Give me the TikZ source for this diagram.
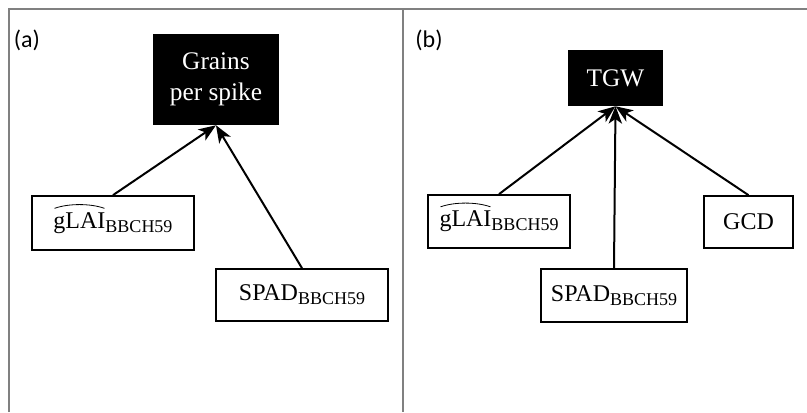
\documentclass[tikz,border=0pt]{standalone}
\usepackage{fontspec}
\usetikzlibrary{arrows.meta}
\setmainfont{Liberation Serif}
\newfontfamily\labelfont{Carlito}
\newcommand{\bbch}{\raisebox{-0.35ex}{\fontsize{13.5}{13.5}\selectfont BBCH59}}
\def\px{0.75pt}
\begin{document}
\begin{tikzpicture}[x=0.75pt,y=-0.75pt,
  varbox/.style={draw,line width=1.3pt,inner sep=0pt,font=\fontsize{18}{20}\selectfont},
  targetbox/.style={fill=black,text=white,inner sep=0pt,align=center,font=\fontsize{19}{23}\selectfont},
  panel/.style={font=\labelfont\fontsize{18}{20}\selectfont},
  link/.style={-{Stealth[length=13pt,width=10pt,inset=3.5pt]},line width=1.5pt},
  hatarc/.style={line width=0.6pt}]

\useasboundingbox (0,0) rectangle (807,412);

\draw[black!50,line width=1.5pt] (9,412) -- (9,9) -- (807,9);
\draw[black!50,line width=1.5pt] (403,9) -- (403,412);

\node[panel] (labA) at (27,40) {(a)};
\node[panel] (labB) at (429,40) {(b)};

% panel (a)
\node[targetbox,minimum width=126*\px,minimum height=91*\px] (grains) at (216,79.5) {Grains\\per spike};
\node[varbox,minimum width=162*\px,minimum height=54*\px] (glaiA) at (113,223) {gLAI\bbch};
\node[varbox,minimum width=172*\px,minimum height=52*\px] (spadA) at (302,295) {SPAD\bbch};
\draw[hatarc,shift={(glaiA.text)}] (1,-20) .. controls (15,-25) and (37,-25) .. (51,-20);

\draw[link] (glaiA.north) -- (grains.south);
\draw[link] (spadA.north) -- (grains.south);

% panel (b)
\node[targetbox,minimum width=95*\px,minimum height=56*\px] (tgw) at (615.5,78) {TGW};
\node[varbox,minimum width=142*\px,minimum height=53*\px] (glaiB) at (499,221.5) {gLAI\bbch};
\node[varbox,minimum width=146*\px,minimum height=53*\px] (spadB) at (614,295.5) {SPAD\bbch};
\node[varbox,minimum width=89*\px,minimum height=52*\px] (gcd) at (748.5,222) {GCD};
\draw[hatarc,shift={(glaiB.text)}] (1,-20) .. controls (15,-25) and (37,-25) .. (51,-20);

\draw[link] (glaiB.north) -- (tgw.south);
\draw[link] (spadB.north) -- (tgw.south);
\draw[link] (gcd.north) -- (tgw.south);

\end{tikzpicture}
\end{document}
